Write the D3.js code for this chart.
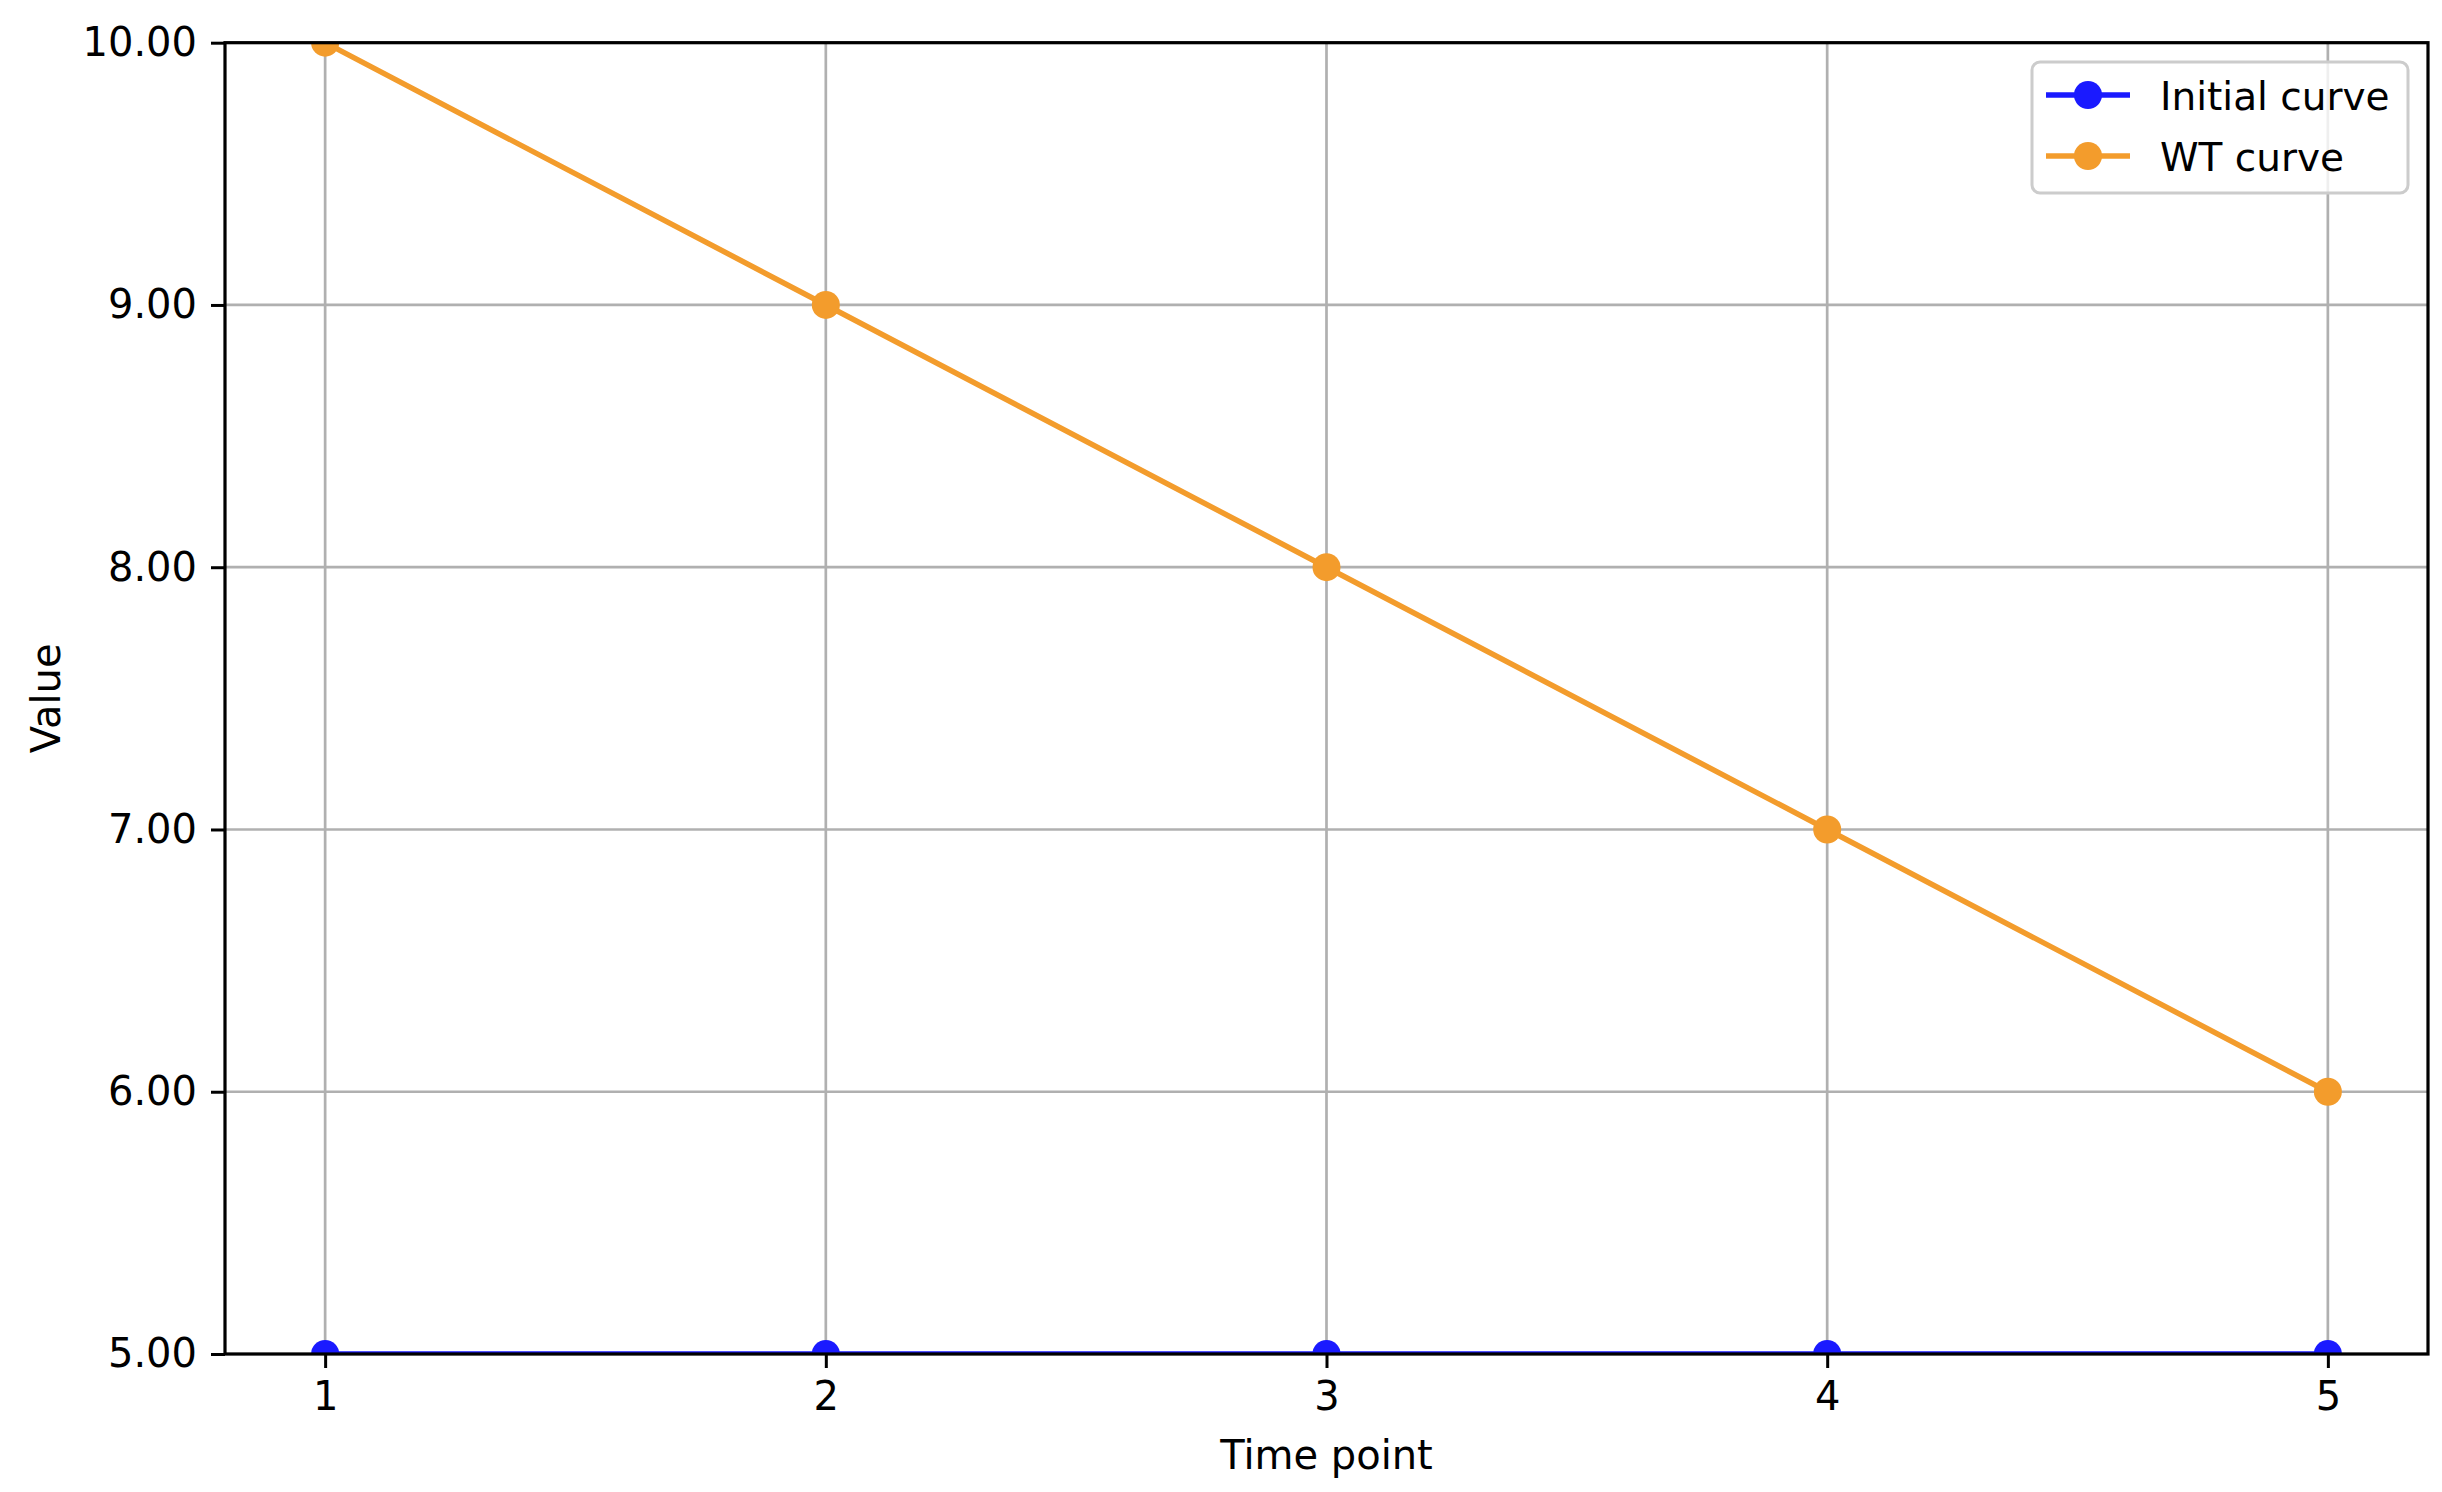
<!DOCTYPE html>
<html>
<head>
<meta charset="utf-8">
<script src="https://cdn.jsdelivr.net/npm/d3@7"></script>
<style>
  html, body { margin: 0; padding: 0; background: #fff; }
  svg { display: block; font-family: "DejaVu Sans", sans-serif; }
</style>
</head>
<body>
<script>
// ---- data ----
const timePoints = [1, 2, 3, 4, 5];
const initialCurve = [5, 5, 5, 5, 5];
const wtCurve = [10, 9, 8, 7, 6];
const seriesNames = ["Initial curve", "WT curve"];
const yTicks = [5, 6, 7, 8, 9, 10];
const xTicks = [1, 2, 3, 4, 5];
const xLabel = "Time point";
const yLabel = "Value";

(function () {
const W = 2442, H = 1492;
const pL = 225, pR = 2428, pT = 42.7, pB = 1354;
const colors = ["#1a1aff", "#f39c2c"];

const svg = d3.select("body").append("svg").attr("width", W).attr("height", H);

const x = d3.scaleLinear().domain([0.8, 5.2]).range([pL, pR]);
const y = d3.scaleLinear().domain([5, 10]).range([pB, pT]);

// grid
const grid = svg.append("g");
grid.selectAll("line.gx").data(xTicks).enter().append("line")
  .attr("x1", d => x(d)).attr("x2", d => x(d)).attr("y1", pT).attr("y2", pB)
  .attr("stroke", "#b0b0b0").attr("stroke-width", 2.7);
grid.selectAll("line.gy").data(yTicks).enter().append("line")
  .attr("y1", d => y(d)).attr("y2", d => y(d)).attr("x1", pL).attr("x2", pR)
  .attr("stroke", "#b0b0b0").attr("stroke-width", 2.7);

// clip
svg.append("clipPath").attr("id", "clip").append("rect")
  .attr("x", pL).attr("y", pT).attr("width", pR - pL).attr("height", pB - pT);

const series = [initialCurve, wtCurve];
const plot = svg.append("g").attr("clip-path", "url(#clip)");
const line = d3.line().x((d, i) => x(timePoints[i])).y(d => y(d));
series.forEach((s, k) => {
  plot.append("path").datum(s).attr("d", line)
    .attr("fill", "none").attr("stroke", colors[k]).attr("stroke-width", 5.5)
    .attr("stroke-linejoin", "round").attr("stroke-linecap", "square");
  plot.selectAll("circle.s" + k).data(s).enter().append("circle")
    .attr("cx", (d, i) => x(timePoints[i])).attr("cy", d => y(d)).attr("r", 14)
    .attr("fill", colors[k]);
});

// axes
const xAxis = d3.axisBottom(x).tickValues(xTicks).tickFormat(d3.format("d"))
  .tickSize(14).tickPadding(14);
const yAxis = d3.axisLeft(y).tickValues(yTicks).tickFormat(d3.format(".2f"))
  .tickSize(14).tickPadding(14);

const gx = svg.append("g").attr("transform", `translate(0,${pB})`).call(xAxis);
const gy = svg.append("g").attr("transform", `translate(${pL},0)`).call(yAxis);
[gx, gy].forEach(g => {
  g.select(".domain").remove();
  g.selectAll(".tick line").attr("stroke", "#000").attr("stroke-width", 3);
  g.selectAll(".tick text").attr("fill", "#000").style("font-size", "40px")
    .style("font-family", "DejaVu Sans");
});

// spines
svg.append("rect").attr("x", pL).attr("y", pT).attr("width", pR - pL).attr("height", pB - pT)
  .attr("fill", "none").attr("stroke", "#000").attr("stroke-width", 3.2);

// axis labels
svg.append("text").attr("x", (pL + pR) / 2).attr("y", 1469)
  .attr("text-anchor", "middle").style("font-size", "40px").text(xLabel);
svg.append("text").attr("transform", `translate(60,${(pT + pB) / 2}) rotate(-90)`)
  .attr("text-anchor", "middle").style("font-size", "40px").text(yLabel);

// legend
const lg = svg.append("g");
lg.append("rect").attr("x", 2032).attr("y", 62).attr("width", 376).attr("height", 131)
  .attr("rx", 8).attr("fill", "#fff").attr("fill-opacity", 0.8)
  .attr("stroke", "#cccccc").attr("stroke-width", 3);
const rowY = [95, 156];
seriesNames.forEach((name, k) => {
  lg.append("line").attr("x1", 2046).attr("x2", 2130).attr("y1", rowY[k]).attr("y2", rowY[k])
    .attr("stroke", colors[k]).attr("stroke-width", 5.5);
  lg.append("circle").attr("cx", 2088).attr("cy", rowY[k]).attr("r", 14).attr("fill", colors[k]);
  lg.append("text").attr("x", 2160).attr("y", rowY[k] + 14.5)
    .style("font-size", "39px").attr("fill", "#000").text(name);
});
})();
</script>
</body>
</html>
